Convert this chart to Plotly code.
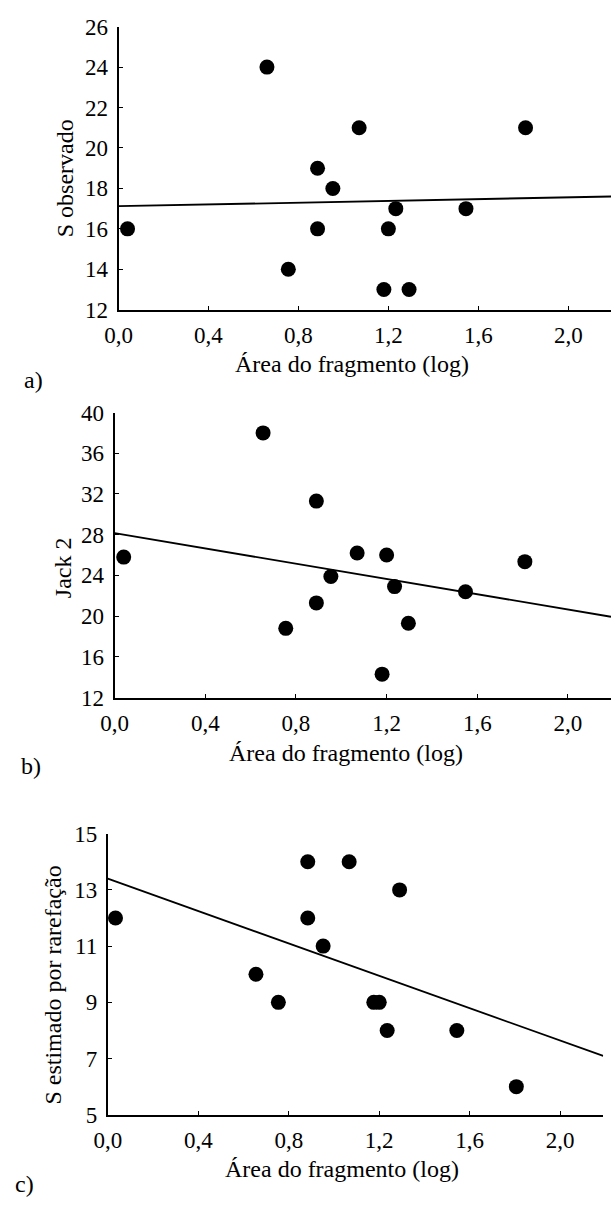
import plotly.graph_objects as go

# Data
area_log = [0.04, 0.66, 0.755, 0.885, 0.885, 0.953, 1.07, 1.18, 1.20, 1.233, 1.292, 1.545, 1.81]
s_observado = [16, 24, 14, 19, 16, 18, 21, 13, 16, 17, 13, 17, 21]
area_log_b = [0.04, 0.655, 0.755, 0.89, 0.89, 0.954, 1.07, 1.18, 1.20, 1.235, 1.296, 1.548, 1.81]
jack2 = [25.8, 38.0, 18.8, 31.3, 21.3, 23.9, 26.2, 14.3, 26.0, 22.9, 19.3, 22.4, 25.35]
area_log_c = [0.034, 0.655, 0.754, 0.884, 0.884, 0.952, 1.067, 1.176, 1.20, 1.235, 1.29, 1.543, 1.806]
s_rarefacao = [12, 10, 9, 14, 12, 11, 14, 9, 9, 8, 13, 8, 6]

# regression lines (intercept, slope)
fit_a = (17.12, 0.22)
fit_b = (28.15, -3.75)
fit_c = (13.4, -2.88)
line_x = [0.0, 2.19]

x_tickvals = [0.0, 0.4, 0.8, 1.2, 1.6, 2.0]
x_ticktext = ["0,0", "0,4", "0,8", "1,2", "1,6", "2,0"]
ya_ticks = [12, 14, 16, 18, 20, 22, 24, 26]
yb_ticks = [12, 16, 20, 24, 28, 32, 36, 40]
yc_ticks = [5, 7, 9, 11, 13, 15]

x_title = "Área do fragmento (log)"
y_titles = ["S observado", "Jack 2", "S estimado por rarefação"]
panel_labels = ["a)", "b)", "c)"]

W, H = 611, 1212
FONT = "Liberation Serif"

def px(x):
    return x / W

def py(y):
    return 1 - y / H

fig = go.Figure()

panels = [
    dict(x=area_log, y=s_observado, fit=fit_a, yt=ya_ticks, yr=[12, 26],
         xd=[px(107), 1.0], yd=[py(304), py(15)], suffix=""),
    dict(x=area_log_b, y=jack2, fit=fit_b, yt=yb_ticks, yr=[12, 40],
         xd=[px(103), 1.0], yd=[py(700), py(409)], suffix="2"),
    dict(x=area_log_c, y=s_rarefacao, fit=fit_c, yt=yc_ticks, yr=[5, 15],
         xd=[px(96), px(603)], yd=[py(1126), py(839)], suffix="3"),
]

for i, p in enumerate(panels):
    xa = "x" + p["suffix"]
    ya = "y" + p["suffix"]
    b0, b1 = p["fit"]
    fig.add_trace(go.Scatter(
        x=line_x, y=[b0 + b1 * v for v in line_x], mode="lines",
        line=dict(color="black", width=1.8), xaxis=xa, yaxis=ya,
        showlegend=False, hoverinfo="skip"))
    fig.add_trace(go.Scatter(
        x=p["x"], y=p["y"], mode="markers",
        marker=dict(color="black", size=15, line=dict(width=0)),
        xaxis=xa, yaxis=ya, showlegend=False, cliponaxis=False))
    axis_common = dict(showline=True, linecolor="black", linewidth=2,
                       ticks="inside", ticklen=4, tickwidth=1.2, tickcolor="black",
                       showgrid=False, zeroline=False,
                       tickfont=dict(family=FONT, size=23, color="black"))
    xkey = "xaxis" + p["suffix"]
    ykey = "yaxis" + p["suffix"]
    fig.update_layout({
        xkey: dict(axis_common, domain=p["xd"], range=[0, 2.19],
                   tickvals=x_tickvals, ticktext=x_ticktext,
                   anchor=ya, ticklabelstandoff=4),
        ykey: dict(axis_common, domain=p["yd"], range=p["yr"],
                   tickvals=p["yt"], ticktext=[str(t) for t in p["yt"]],
                   anchor=xa, ticklabelstandoff=4),
    })

annots = []
xt_pos = [(346, 359), (340, 757), (336, 1181)]
yt_pos = [(53, 170), (50, 567), (40, 994)]
lab_pos = [(20, 376), (17, 770), (11, 1197)]
for i in range(3):
    annots.append(dict(text=x_title, x=px(xt_pos[i][0]), y=py(xt_pos[i][1]),
                       xref="paper", yref="paper", showarrow=False,
                       xanchor="center", yanchor="middle",
                       font=dict(family=FONT, size=24, color="black")))
    annots.append(dict(text=y_titles[i], x=px(yt_pos[i][0]), y=py(yt_pos[i][1]),
                       xref="paper", yref="paper", showarrow=False, textangle=-90,
                       xanchor="center", yanchor="middle",
                       font=dict(family=FONT, size=24, color="black")))
    annots.append(dict(text=panel_labels[i], x=px(lab_pos[i][0]), y=py(lab_pos[i][1]),
                       xref="paper", yref="paper", showarrow=False,
                       xanchor="center", yanchor="middle",
                       font=dict(family=FONT, size=24, color="black")))

fig.update_layout(width=W, height=H, margin=dict(l=0, r=0, t=0, b=0),
                  paper_bgcolor="white", plot_bgcolor="white",
                  annotations=annots)

fig.write_html("out.html")
